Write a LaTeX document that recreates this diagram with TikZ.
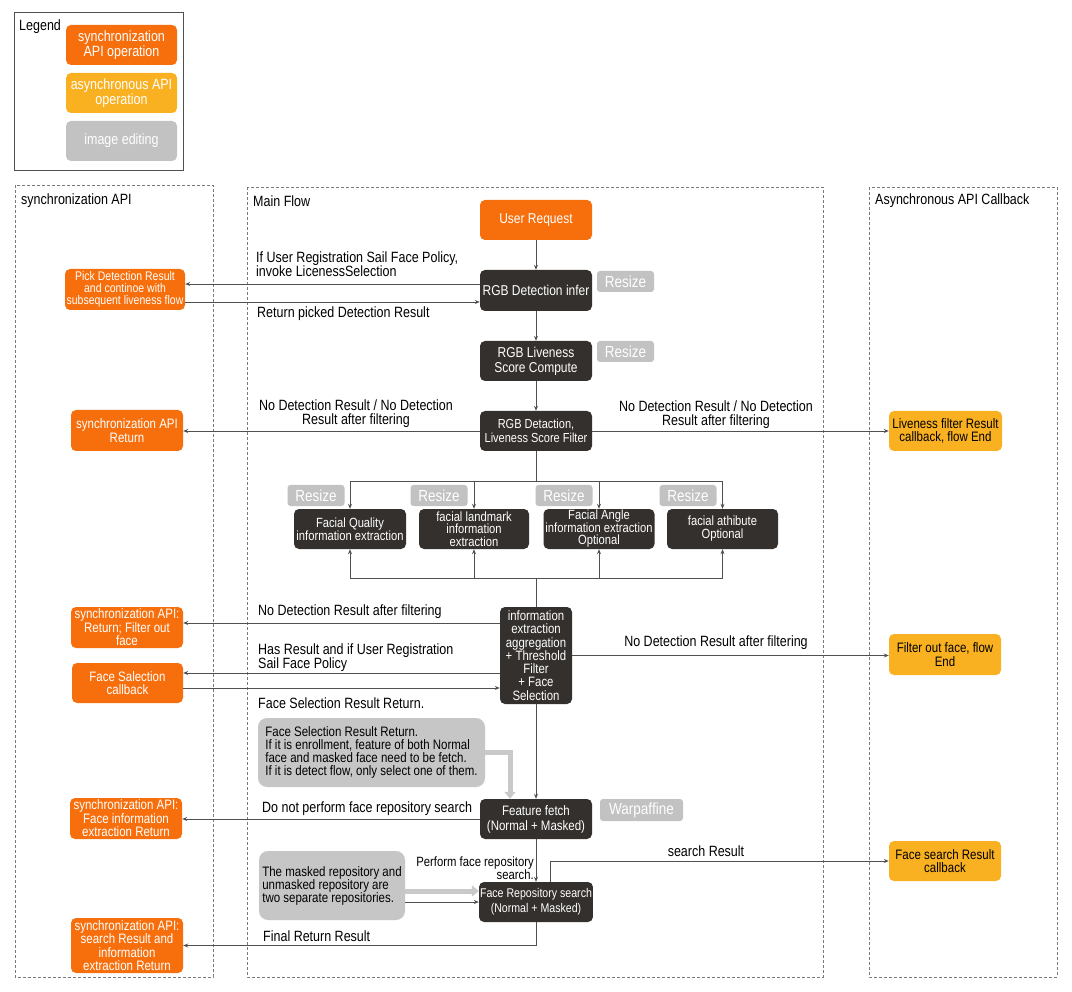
\documentclass[tikz,border=0pt]{standalone}
\usepackage{fontspec}
\setmainfont{Liberation Sans}[FakeStretch=0.84]
\usetikzlibrary{arrows.meta}
\definecolor{orng}{HTML}{F76F0C}
\definecolor{yel}{HTML}{F9B121}
\definecolor{gry}{HTML}{C2C2C2}
\definecolor{notegray}{HTML}{C6C6C6}
\definecolor{drk}{HTML}{34302D}
\definecolor{ln}{HTML}{505050}
\definecolor{dsh}{HTML}{7A7A7A}
\definecolor{lgray}{HTML}{C9C9C9}
\newcommand\fs[2]{\fontsize{\fpeval{#1/0.84}}{#2}\selectfont}
\tikzset{
  box/.style={rounded corners=5pt, align=center, inner sep=1pt, minimum width=112pt, minimum height=40pt},
  sync/.style={box, fill=orng, text=white, font=\fs{11.5}{13.5}},
  async/.style={box, fill=yel, text=black, font=\fs{11.5}{13.5}},
  dark/.style={box, fill=drk, text=white, font=\fs{12}{15}},
  edit/.style={rounded corners=3pt, fill=gry, text=white, font=\fs{13.5}{15}, minimum width=57pt, minimum height=21pt, inner sep=0pt},
  note/.style={rounded corners=9pt, fill=notegray, text=black, align=left, font=\fs{11.5}{13}, inner sep=0pt},
  lbl/.style={font=\fs{12.5}{14}, inner sep=0pt},
  arr/.style={draw=ln, line width=0.8pt, -{Stealth[length=5pt,width=4pt]}},
  con/.style={draw=ln, line width=0.8pt},
  garr/.style={draw=lgray, line width=5pt, -{Triangle[length=7pt,width=11pt]}},
  panel/.style={draw=dsh, line width=0.8pt, dash pattern=on 3pt off 2pt},
}
\begin{document}
\begin{tikzpicture}[x=1pt,y=-1pt]
\useasboundingbox (0,0) rectangle (1072,992);
\fill[white] (0,0) rectangle (1072,992);

% legend
\draw[draw=ln, line width=0.8pt] (14,12) rectangle (183,170);
\node[lbl, anchor=west] (legt) at (19,26.5) {Legend};
\node[sync, minimum width=111pt, font=\fs{12.5}{15}] (lg1) at (121.5,45) {synchronization\\API operation};
\node[sync, fill=yel, minimum width=111pt, font=\fs{12.5}{15}] (lg2) at (121.5,93) {asynchronous API\\operation};
\node[sync, fill=gry, minimum width=111pt, font=\fs{12.5}{15}] (lg3) at (121.5,141) {image editing};

% panels
\draw[panel] (15,185) rectangle (213,977);
\draw[panel] (247,187) rectangle (823,977);
\draw[panel] (869,187) rectangle (1057,977);
\node[lbl, anchor=west] (t1) at (21,201) {synchronization API};
\node[lbl, anchor=west] (t2) at (253,201) {Main Flow};
\node[lbl, anchor=west] (t3) at (875,201) {Asynchronous API Callback};

% main column
\node[sync, font=\fs{12}{14}] (req) at (536,220) {User Request};
\node[dark, minimum height=41pt] (infer) at (536,290.5) {RGB Detection infer};
\node[edit] (rz1) at (625.5,281.5) {Resize};
\node[dark] (live) at (536,361) {RGB Liveness\\Score Compute};
\node[edit] (rz2) at (625.5,351.5) {Resize};
\node[dark, font=\fs{11}{14}] (filt) at (536,431) {RGB Detaction,\\Liveness Score Filter};

% four boxes
\node[dark, font=\fs{11.2}{13}] (fq) at (350,529) {Facial Quality\\information extraction};
\node[dark, font=\fs{11.2}{12.5}, minimum width=110pt] (fl) at (474,529) {facial landmark\\information\\extraction};
\node[dark, font=\fs{11.2}{12.5}, minimum width=111pt] (fa) at (599,529) {Facial Angle\\information extraction\\Optional};
\node[dark, font=\fs{11.2}{13}, minimum width=111pt] (fat) at (722.5,529) {facial athibute\\Optional};
\node[edit] (rz3) at (316,495.5) {Resize};
\node[edit] (rz4) at (439,495.5) {Resize};
\node[edit] (rz5) at (564,495.5) {Resize};
\node[edit] (rz6) at (688,495.5) {Resize};

\node[dark, font=\fs{11.4}{13.3}, minimum width=72pt, minimum height=97pt] (agg) at (536,655.5) {information\\extraction\\aggregation\\+ Threshold\\Filter\\+ Face\\Selection};

\node[dark, font=\fs{11.5}{15}] (feat) at (536,819) {Feature fetch\\(Normal + Masked)};
\node[edit, minimum width=83pt, minimum height=22pt] (warp) at (641.5,810) {Warpaffine};
\node[dark, font=\fs{10.6}{15}] (repo) at (536,902) {Face Repository search\\(Normal + Masked)};

\node[note, minimum width=227pt, minimum height=69pt] (note1) at (371.5,752.5) {Face Selection Result Return.\\If it is enrollment, feature of both Normal\\face and masked face need to be fetch.\\If it is detect flow, only select one of them.};
\node[note, minimum width=146pt, minimum height=69pt] (note2) at (332,885.5) {The masked repository and\\unmasked repository are\\two separate repositories.};

% left nodes
\node[sync, font=\fs{10.5}{12}, minimum width=120pt, minimum height=41pt] (pick) at (125,289.5) {Pick Detection Result\\and continoe with\\subsequent liveness flow};
\node[sync, minimum height=41pt] (sret) at (127,430.5) {synchronization API\\Return};
\node[sync, minimum height=41pt] (sfilt) at (127,627.5) {synchronization API:\\Return; Filter out\\face};
\node[sync, minimum width=111pt] (fsel) at (127.5,683) {Face Salection\\callback};
\node[sync, minimum height=41pt] (sfeat) at (126,818.5) {synchronization API:\\Face information\\extraction Return};
\node[sync, minimum height=55pt] (sfin) at (127,945.5) {synchronization API:\\search Result and\\information\\extraction Return};

% right nodes
\node[async, minimum width=113pt] (lfr) at (945.5,431) {Liveness filter Result\\callback, flow End};
\node[async, minimum height=41pt] (fof) at (945,654.5) {Filter out face, flow\\End};
\node[async] (fsr) at (945,861) {Face search Result\\callback};

% labels
\node[lbl, anchor=west, align=left] (l1) at (256,264) {If User Registration Sail Face Policy,\\invoke LicenessSelection};
\node[lbl, anchor=west] (l2) at (257,314) {Return picked Detection Result};
\node[lbl, align=center] (l3) at (356,413.5) {No Detection Result / No Detection\\Result after filtering};
\node[lbl, align=center] (l4) at (716,414.5) {No Detection Result / No Detection\\Result after filtering};
\node[lbl, anchor=west] (l5) at (258,612) {No Detection Result after filtering};
\node[lbl, anchor=west, align=left] (l6) at (258,658) {Has Result and if User Registration\\Sail Face Policy};
\node[lbl, anchor=west] (l7) at (258,703) {Face Selection Result Return.};
\node[lbl] (l8) at (716,643) {No Detection Result after filtering};
\node[lbl, anchor=west] (l9) at (262,809) {Do not perform face repository search};
\node[lbl, anchor=east, align=right, font=\fs{11.3}{12.5}] (l10) at (534,868) {Perform face repository\\search.};
\node[lbl] (l11) at (706,851) {search Result};
\node[lbl, anchor=west] (l12) at (263,936) {Final Return Result};

% main vertical connectors
\draw[arr] (req) -- (infer);
\draw[arr] (infer) -- (live);
\draw[arr] (live) -- (filt);
\coordinate (bt) at (536,481);
\coordinate (bb) at (536,578);
\draw[con] (filt.south) -- (bt);
\draw[con] (bt -| fq) -- (bt -| fat);
\draw[arr] (bt -| fq) -- (fq.north);
\draw[arr] (bt -| fl) -- (fl.north);
\draw[arr] (bt -| fa) -- (fa.north);
\draw[arr] (bt -| fat) -- (fat.north);
\draw[con] (bb -| fq) -- (bb -| fat);
\draw[arr] (bb -| fq) -- (fq.south);
\draw[arr] (bb -| fl) -- (fl.south);
\draw[arr] (bb -| fa) -- (fa.south);
\draw[arr] (bb -| fat) -- (fat.south);
\draw[con] (bb) -- (agg.north);
\draw[arr] (agg) -- (feat);
\draw[arr] (feat) -- (repo);

% side connectors
\coordinate (p1) at ([yshift=6.5pt]infer.west);
\draw[arr] (p1) -- (p1 -| pick.east);
\coordinate (p2) at ([yshift=-11.5pt]infer.west);
\draw[arr] (p2 -| pick.east) -- (p2);
\draw[arr] (filt.west) -- (filt.west -| sret.east);
\draw[arr] (filt.east) -- (filt.east -| lfr.west);
\coordinate (a1) at ([yshift=32.5pt]agg.west);
\draw[arr] (a1) -- (a1 -| sfilt.east);
\coordinate (a2) at ([yshift=-17.5pt]agg.west);
\draw[arr] (a2) -- (a2 -| fsel.east);
\coordinate (a3) at ([yshift=-32.5pt]agg.west);
\draw[arr] (a3 -| fsel.east) -- (a3);
\draw[arr] (agg.east) -- (agg.east -| fof.west);
\draw[arr] (feat.west) -- (feat.west -| sfeat.east);
\draw[arr] ([xshift=14pt]repo.north) |- (fsr.west);
\draw[arr] (repo.south) |- (sfin.east);

% gray note connectors
\draw[garr] (note1.east) -| ([xshift=-26pt]feat.north);
\coordinate (n1) at ([yshift=-5.5pt]note2.east);
\draw[garr] (n1) -- (n1 -| repo.west);
\coordinate (n2) at ([yshift=-16.5pt]note2.east);
\draw[arr] (n2) -- (n2 -| repo.west);
\end{tikzpicture}
\end{document}
